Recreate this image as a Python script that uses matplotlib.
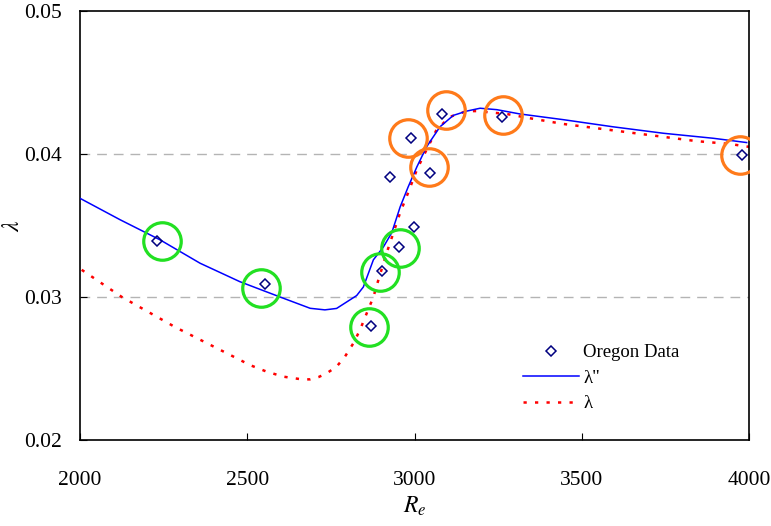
import matplotlib
matplotlib.use("Agg")
import matplotlib.pyplot as plt

plt.rcParams['font.family'] = ['Liberation Serif', 'DejaVu Serif']
plt.rcParams['mathtext.fontset'] = 'stix'

# Oregon data points
re_data = [2230, 2553, 2869, 2904, 2955, 2998, 2927, 2988, 3047, 3081, 3262, 3978]
lam_data = [0.0339, 0.0309, 0.0280, 0.0318, 0.0335, 0.0349, 0.0384, 0.0411, 0.0387, 0.0428, 0.0426, 0.0399]

# lambda'' curve (solid blue)
re_blue = [2000, 2120, 2239, 2359, 2478, 2598, 2688, 2732, 2767, 2827, 2847, 2877, 2907, 2932,
           2957, 2981, 3007, 3036, 3076, 3116, 3156, 3196, 3246, 3315, 3445, 3594, 3744, 3893, 3993]
lam_blue = [0.0369, 0.0354, 0.0340, 0.03236, 0.03107, 0.0300, 0.02921, 0.0291, 0.0292, 0.0301,
            0.0307, 0.0326, 0.0335, 0.0345, 0.0363, 0.0377, 0.0391, 0.0405, 0.0419, 0.0427,
            0.0430, 0.0432, 0.0431, 0.0428, 0.0424, 0.0419, 0.04145, 0.0411, 0.0408]

# lambda curve (dotted red)
re_red = [2005, 2125, 2284, 2463, 2508, 2558, 2608, 2663, 2688, 2713, 2737, 2767, 2792, 2817,
          2837, 2857, 2877, 2892, 2917, 2957, 2981, 3007, 3036, 3066, 3106, 3156, 3186, 3275,
          3345, 3445, 3545, 3644, 3744, 3843, 3943, 4000]
lam_red = [0.0319, 0.0300, 0.0279, 0.02578, 0.02524, 0.02478, 0.02443, 0.02424, 0.02424, 0.0244,
           0.02466, 0.02513, 0.02583, 0.02676, 0.0277, 0.02886, 0.0300, 0.0312, 0.0331, 0.0359,
           0.0373, 0.0389, 0.0403, 0.0417, 0.0426, 0.0430, 0.0430, 0.0428, 0.0425, 0.0421,
           0.0418, 0.0415, 0.0412, 0.0409, 0.0407, 0.0405]

# highlight circles
green_x = [2245, 2541, 2864, 2897, 2957]
green_y = [0.0339, 0.03063, 0.0279, 0.03175, 0.0334]
orange_x = [2981, 3043, 3094, 3265, 3973]
orange_y = [0.0411, 0.0391, 0.0431, 0.0427, 0.0399]

fig = plt.figure(figsize=(7.71, 5.26), dpi=100)
ax = fig.add_axes([0.1038, 0.1635, 0.8677, 0.8156])

for y in [0.03, 0.04]:
    ax.axhline(y, color='#b4b4b4', lw=1.0, linestyle=(0, (7, 5)), zorder=1)

ax.plot(re_data, lam_data, linestyle='none', marker='D', ms=5.5, mfc='none',
        mec='#000080', mew=1.1, label='Oregon Data', zorder=4)
ax.plot(re_blue, lam_blue, color='#0000ff', lw=1.1, label='λ"', zorder=3)
ax.plot(re_red, lam_red, color='#ff0000', lw=1.8, linestyle=(0, (1.3, 3.3)), label='λ', zorder=2)

ax.plot(green_x, green_y, linestyle='none', marker='o', ms=27, mfc='none',
        mec='#22e022', mew=2.3, zorder=5)
ax.plot(orange_x, orange_y, linestyle='none', marker='o', ms=27, mfc='none',
        mec='#ff7a1a', mew=2.3, zorder=5)

ax.set_xlim(2000, 4000)
ax.set_ylim(0.02, 0.05)
ax.set_xticks([2000, 2500, 3000, 3500, 4000])
ax.set_yticks([0.02, 0.03, 0.04, 0.05])
ax.set_yticklabels(['0.02', '0.03', '0.04', '0.05'])
ax.tick_params(axis='x', direction='in', length=5, pad=22, labelsize=15.5)
ax.tick_params(axis='y', direction='in', length=5, pad=13, labelsize=15.5)
for s in ax.spines.values():
    s.set_linewidth(1.2)

ax.set_xlabel('$R_e$', fontsize=17, labelpad=4)
ax.set_ylabel('$\\lambda$', fontsize=17, labelpad=0)

ax.legend(loc='upper left', bbox_to_anchor=(0.651, 0.241), frameon=False, fontsize=13.5,
          handlelength=3.0, handletextpad=0.2, labelspacing=0.45, borderaxespad=0)

fig.savefig('out.png', dpi=100)
